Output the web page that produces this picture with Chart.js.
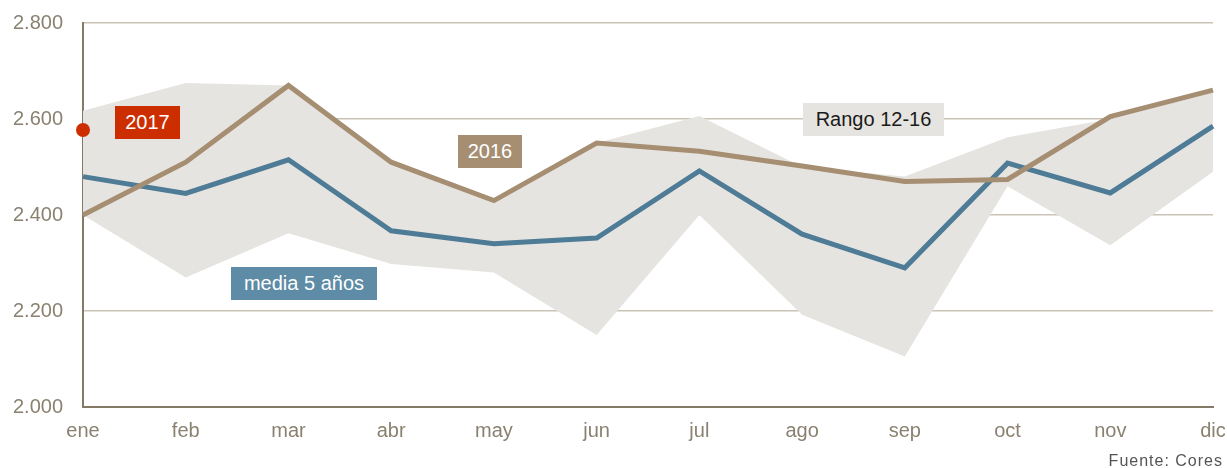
<!DOCTYPE html>
<html>
<head>
<meta charset="utf-8">
<script src="https://cdn.jsdelivr.net/npm/chart.js@4/dist/chart.umd.min.js"></script>
<style>
  html, body { margin: 0; padding: 0; background: #ffffff; }
  #wrap { position: relative; width: 1227px; height: 468px; overflow: hidden; font-family: "Liberation Sans", Arial, sans-serif; }
  canvas { position: absolute; left: 0; top: 0; }
  .lbl { position: absolute; font-size: 20px; line-height: 33px; height: 33px; text-align: center; white-space: nowrap; }
  #l2017 { left: 115px; top: 106px; width: 65px; background: #cc2e00; color: #ffffff; }
  #l2016 { left: 458px; top: 135px; width: 64px; background: #a68e72; color: #ffffff; }
  #lmedia { left: 231px; top: 267px; width: 146px; background: #5e8ba6; color: #ffffff; }
  #lrango { left: 803px; top: 103px; width: 141px; background: #e6e4e0; color: #1a1a1a; }
  #src { position: absolute; right: 4px; top: 453px; font-size: 16px; line-height: 16px; letter-spacing: 1px; color: #555555; white-space: nowrap; }
</style>
</head>
<body>
<div id="wrap">
  <canvas id="c" width="1227" height="468"></canvas>
  <div class="lbl" id="l2017">2017</div>
  <div class="lbl" id="l2016">2016</div>
  <div class="lbl" id="lmedia">media 5 años</div>
  <div class="lbl" id="lrango">Rango 12-16</div>
  <div id="src">Fuente: Cores</div>
</div>
<script>
const months = ["ene","feb","mar","abr","may","jun","jul","ago","sep","oct","nov","dic"];
const serie2016 = [2400, 2510, 2670, 2510, 2430, 2550, 2533, 2502, 2470, 2474, 2605, 2660];
const media5 = [2480, 2445, 2515, 2367, 2340, 2352, 2492, 2360, 2290, 2508, 2446, 2585];
const rangoMax = [2617, 2675, 2670, 2510, 2430, 2550, 2606, 2500, 2480, 2562, 2600, 2655];
const rangoMin = [2400, 2270, 2362, 2298, 2280, 2150, 2400, 2192, 2105, 2460, 2337, 2490];
const serie2017 = [2577, null, null, null, null, null, null, null, null, null, null, null];
const yTicks = [2000, 2200, 2400, 2600, 2800];

const FONT = "'Liberation Sans', Arial, sans-serif";

new Chart(document.getElementById('c'), {
  type: 'line',
  data: {
    labels: months,
    datasets: [
      { label: 'min', data: rangoMin, borderWidth: 0, pointRadius: 0, fill: false, borderColor: 'rgba(0,0,0,0)', order: 5 },
      { label: 'Rango 12-16', data: rangoMax, borderWidth: 0, pointRadius: 0, fill: '-1', backgroundColor: '#e6e4e0', borderColor: 'rgba(0,0,0,0)', order: 4 },
      { label: 'media 5 años', data: media5, borderColor: '#4e7b96', borderWidth: 5, pointRadius: 0, fill: false, tension: 0, order: 2 },
      { label: '2016', data: serie2016, borderColor: '#a68e72', borderWidth: 5, pointRadius: 0, fill: false, tension: 0, order: 1 },
      { label: '2017', data: serie2017, showLine: false, pointRadius: 7, pointBackgroundColor: '#cc2e00', pointBorderWidth: 0, borderColor: '#cc2e00', clip: false, order: 0 }
    ]
  },
  options: {
    responsive: false,
    animation: false,
    devicePixelRatio: 1,
    layout: { padding: { left: 0, right: 14, top: 23, bottom: 0 } },
    plugins: { legend: { display: false }, tooltip: { enabled: false } },
    scales: {
      x: {
        offset: false,
        grid: { display: false, drawTicks: false },
        border: { display: true, color: '#857a66', width: 2 },
        ticks: { color: '#8a8170', font: { family: FONT, size: 20 }, padding: 12, maxRotation: 0, autoSkip: false },
        afterFit: s => { s.height = 61; s.paddingLeft = 0; s.paddingRight = 0; }
      },
      y: {
        min: 2000, max: 2800,
        afterBuildTicks: s => { s.ticks = yTicks.map(v => ({ value: v })); },
        grid: { color: '#cac4b6', lineWidth: 1.5, drawTicks: false },
        border: { display: true, color: '#857a66', width: 2 },
        ticks: {
          color: '#8a8170', font: { family: FONT, size: 20 }, padding: 20,
          callback: v => (v / 1000).toFixed(3)
        },
        afterFit: s => { s.width = 83; s.paddingTop = 0; s.paddingBottom = 0; }
      }
    }
  }
});
</script>
</body>
</html>
